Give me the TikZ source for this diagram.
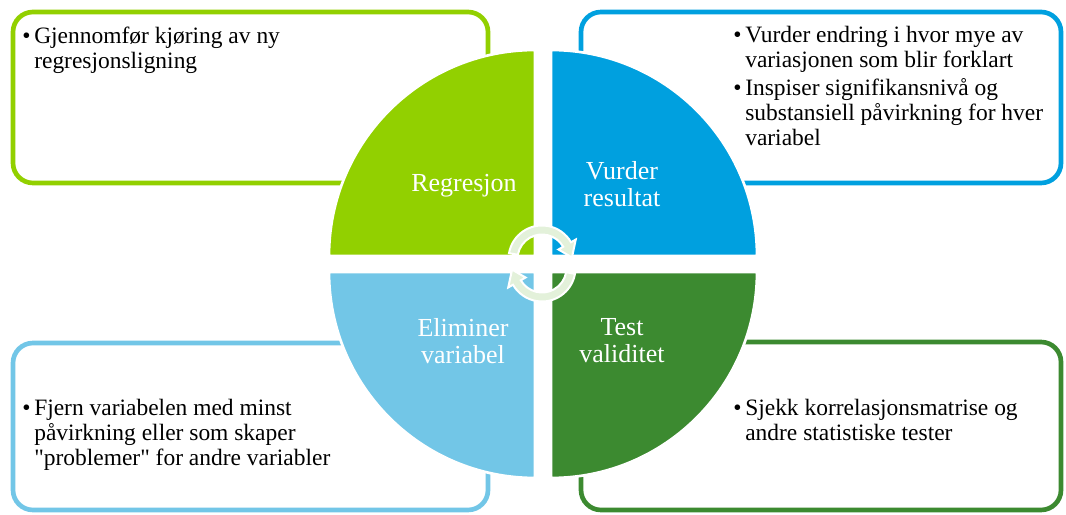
\documentclass[tikz,border=0pt]{standalone}
\usepackage{fontspec}
\setmainfont{Liberation Serif}
\newcommand{\bpt}{\makebox[9pt][l]{\textbullet}}
\newcommand{\bind}{\hspace*{9pt}}

\begin{document}
\begin{tikzpicture}[x=0.75pt,y=0.75pt]
      \definecolor{regcolor}{HTML}{92D000}
      \definecolor{vurdcolor}{HTML}{00A0DF}
      \definecolor{elimcolor}{HTML}{72C6E7}
      \definecolor{testcolor}{HTML}{3C8A30}
      \definecolor{pilfill}{HTML}{E3F1DA}
      \tikzset{boxline/.style={line width=3.5pt,rounded corners=15pt,fill=white}}
      \tikzset{quadfill/.style={draw=white,line width=2pt}}
      \tikzset{quadtext/.style={text=white,align=center,font=\fontsize{19.5}{20.25}\selectfont}}
      \tikzset{punkt/.style={anchor=north west,align=left,inner sep=0pt,font=\fontsize{17.6}{18.75}\selectfont}}
      \tikzset{pil/.style={fill=pilfill,draw=white,line width=1.5pt}}
      \pgfmathsetmacro{\r}{206}

      \useasboundingbox (0,0) rectangle (1066,514);

      \draw[boxline,draw=regcolor] (13,331) rectangle (488,502);
      \draw[boxline,draw=vurdcolor] (581,331) rectangle (1061,502);
      \draw[boxline,draw=elimcolor] (13,4) rectangle (488,171);
      \draw[boxline,draw=testcolor] (581,4) rectangle (1061,172);

      \filldraw[quadfill,fill=regcolor] (535,258) -- ++(-\r,0)
          arc[start angle=180,end angle=90,radius=\r] -- cycle;
      \filldraw[quadfill,fill=vurdcolor] (551,258) -- ++(0,\r)
          arc[start angle=90,end angle=0,radius=\r] -- cycle;
      \filldraw[quadfill,fill=elimcolor] (535,242) -- ++(0,-\r)
          arc[start angle=270,end angle=180,radius=\r] -- cycle;
      \filldraw[quadfill,fill=testcolor] (551,242) -- ++(\r,0)
          arc[start angle=0,end angle=-90,radius=\r] -- cycle;

      \node[quadtext] (regresjon) at (464,328) {Regresjon};
      \node[quadtext] (vurder) at (622,330) {Vurder\\resultat};
      \node[quadtext] (eliminer) at (463,173) {Eliminer\\variabel};
      \node[quadtext] (test) at (622,173) {Test\\validitet};

      \foreach \cy/\rot in {255/0,246/180}
        \filldraw[pil,shift={(542,\cy)},rotate=\rot] (170:33.5)
            arc[start angle=170,end angle=30,radius=33.5] -- (30:39) -- (3:30)
            -- (30:19) -- (30:24.5) arc[start angle=30,end angle=170,radius=24.5] -- cycle;

      \node[punkt] (kjoring) at (22,487)
          {\bpt Gjennomfør kjøring av ny\\\bind regresjonsligning};
      \node[punkt] (endring) at (733,488)
          {\bpt Vurder endring i hvor mye av\\\bind variasjonen som blir forklart\\[2pt]
           \bpt Inspiser signifikansnivå og\\\bind substansiell påvirkning for hver\\\bind variabel};
      \node[punkt] (fjern) at (22,115)
          {\bpt Fjern variabelen med minst\\\bind påvirkning eller som skaper\\\bind
           \textquotedbl problemer\textquotedbl\ for andre variabler};
      \node[punkt] (sjekk) at (733,115)
          {\bpt Sjekk korrelasjonsmatrise og\\\bind andre statistiske tester};
\end{tikzpicture}
\end{document}
